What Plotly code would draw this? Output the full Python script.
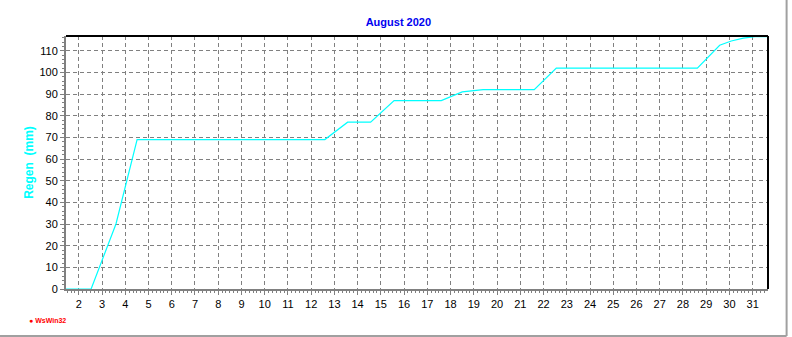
import plotly.graph_objects as go

# Cumulative rain (mm), x = day of month
days = [1.45, 2.53, 3.6, 4.51, 12.59, 13.57, 14.56, 15.57, 17.6, 18.5, 19.4, 21.6,
        22.55, 28.62, 29.58, 30.08, 30.6, 31.1, 31.63]
rain = [0, 0, 30, 69, 69, 77, 77, 87, 87, 91, 92, 92,
        102, 102, 112.5, 114.5, 115.8, 116.5, 116.5]

day_ticks = list(range(2, 32))
y_ticks = list(range(0, 111, 10))

title_text = "August 2020"
y_title = "Regen\u00a0\u00a0(mm)"
credit = "\u25cf WsWin32"

fig = go.Figure()
fig.add_trace(go.Scatter(x=days, y=rain, mode="lines",
                         line=dict(color="#00FFFF", width=1.2),
                         hoverinfo="skip", showlegend=False))

font = "Liberation Sans, Arial, sans-serif"

fig.update_layout(
    width=792, height=337,
    margin=dict(l=66, r=24, t=36, b=48),
    paper_bgcolor="white", plot_bgcolor="white",
    font=dict(family=font, size=11, color="black"),
    title=dict(text="<b>" + title_text + "</b>", x=0.503, xanchor="center",
               y=0.935, yanchor="middle",
               font=dict(family=font, size=11, color="#0000F0")),
    xaxis=dict(range=[1.45, 31.66], tickvals=day_ticks, ticktext=[str(d) for d in day_ticks],
               showgrid=True, gridcolor="#808080", griddash="4px,3px", gridwidth=1,
               showline=True, linecolor="#808080", linewidth=2,
               ticks="outside", ticklen=4, tickcolor="#808080", zeroline=False,
               minor=dict(dtick=1/6, tick0=0, ticks="outside", ticklen=2, tickcolor="#808080", showgrid=False),
               tickfont=dict(size=11, family=font)),
    yaxis=dict(range=[0, 116.8], tickvals=y_ticks,
               showgrid=True, gridcolor="#808080", griddash="4px,3px", gridwidth=1,
               showline=True, linecolor="#808080", linewidth=2,
               ticks="outside", ticklen=4, tickcolor="#808080", zeroline=False,
               minor=dict(dtick=2, ticks="outside", ticklen=2, tickcolor="#808080", showgrid=False),
               tickfont=dict(size=11, family=font),
               title=dict(text="<b>" + y_title + "</b>", standoff=3,
                          font=dict(size=12, family=font, color="#00FFFF"))),
    shapes=[
        dict(type="line", xref="paper", yref="paper", x0=0, x1=1, y0=1, y1=1,
             line=dict(color="black", width=2)),
        dict(type="line", xref="paper", yref="paper", x0=1, x1=1, y0=0, y1=1,
             line=dict(color="black", width=2)),
        dict(type="line", xref="paper", yref="paper", x0=-0.094, x1=1.0265, y0=-0.186, y1=-0.186,
             line=dict(color="#A0A0A0", width=2)),
        dict(type="line", xref="paper", yref="paper", x0=1.0265, x1=1.0265, y0=-0.186, y1=1.2,
             line=dict(color="#A0A0A0", width=2)),
    ],
    annotations=[
        dict(text="<b>" + credit + "</b>", xref="paper", yref="paper",
             x=(27 - 66) / 702, y=(289 - 320) / 253, xanchor="left", yanchor="middle",
             showarrow=False, font=dict(size=7, color="#FF0000", family=font)),
    ],
)

fig.write_html("out.html", config={"displayModeBar": False},
               post_script="document.body.style.margin='0';")
